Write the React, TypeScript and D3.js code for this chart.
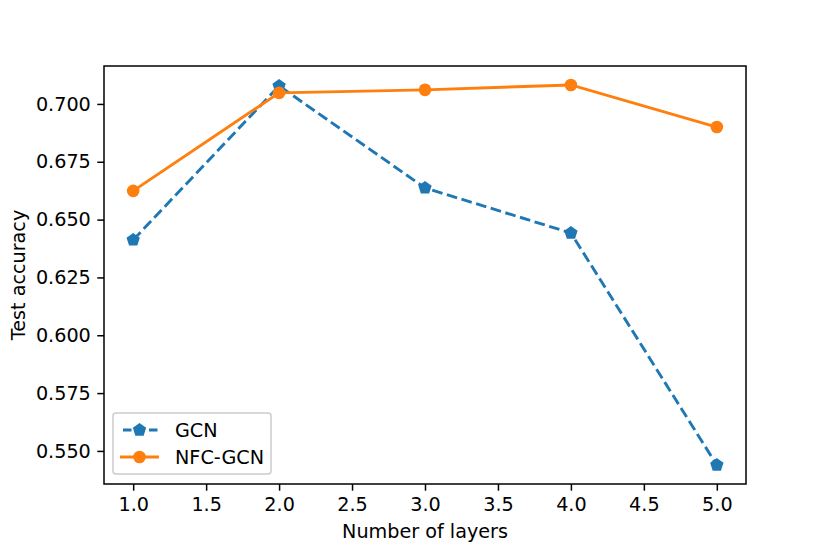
import React, { useEffect, useRef } from 'react';
import * as d3 from 'd3';

const layers = [1, 2, 3, 4, 5];
const gcnAcc = [0.6412, 0.7078, 0.6637, 0.6442, 0.5439];
const nfcAcc = [0.6624, 0.7048, 0.7061, 0.7082, 0.69];
const xTicks = [1.0, 1.5, 2.0, 2.5, 3.0, 3.5, 4.0, 4.5, 5.0];
const yTicks = [0.55, 0.575, 0.6, 0.625, 0.65, 0.675, 0.7];

const BLUE = '#1f77b4';
const ORANGE = '#ff7f0e';

const App: React.FC = () => {
  const ref = useRef<SVGSVGElement>(null);

  useEffect(() => {
    const width = 830;
    const height = 554;
    const margin = { left: 104, right: 84, top: 66, bottom: 70 };
    const font = 'DejaVu Sans, sans-serif';
    const fs = 19.2;
    const lw = 2.9;
    const dash = '10.7,4.6';

    const svg = d3.select(ref.current);
    svg.selectAll('*').remove();
    svg.attr('width', width).attr('height', height);
    svg.append('rect').attr('width', width).attr('height', height).attr('fill', '#fff');

    const x = d3.scaleLinear().domain([0.8, 5.2]).range([margin.left, width - margin.right]);
    const y = d3.scaleLinear().domain([0.5357, 0.7164]).range([height - margin.bottom, margin.top]);

    const g = svg.append('g');

    // axes
    const xAxis = g.append('g')
      .attr('transform', `translate(0,${height - margin.bottom})`)
      .call(d3.axisBottom(x).tickValues(xTicks).tickFormat(d3.format('.1f')).tickSize(6.7).tickPadding(6.5));
    const yAxis = g.append('g')
      .attr('transform', `translate(${margin.left},0)`)
      .call(d3.axisLeft(y).tickValues(yTicks).tickFormat(d3.format('.3f')).tickSize(6.7).tickPadding(6.5));

    [xAxis, yAxis].forEach(a => {
      a.select('.domain').remove();
      a.selectAll('line').attr('stroke', '#000').attr('stroke-width', 1.5);
      a.selectAll('text').attr('font-family', font).attr('font-size', fs).attr('fill', '#000');
    });

    const line = d3.line<number>()
      .x((_, i) => x(layers[i]))
      .y(d => y(d));

    g.append('path')
      .datum(gcnAcc)
      .attr('d', line)
      .attr('fill', 'none')
      .attr('stroke', BLUE)
      .attr('stroke-width', lw)
      .attr('stroke-dasharray', dash);

    g.append('path')
      .datum(nfcAcc)
      .attr('d', line)
      .attr('fill', 'none')
      .attr('stroke', ORANGE)
      .attr('stroke-width', lw);

    // pentagon marker like matplotlib 'p'
    const pent = (r: number) => {
      const pts = d3.range(5).map(k => {
        const a = -Math.PI / 2 + k * 2 * Math.PI / 5;
        return [r * Math.cos(a), r * Math.sin(a)];
      });
      return 'M' + pts.map(p => p.join(',')).join('L') + 'Z';
    };

    g.selectAll('.gcn-pt')
      .data(gcnAcc)
      .enter().append('path')
      .attr('d', pent(7))
      .attr('transform', (d, i) => `translate(${x(layers[i])},${y(d)})`)
      .attr('fill', BLUE);

    g.selectAll('.nfc-pt')
      .data(nfcAcc)
      .enter().append('circle')
      .attr('cx', (_, i) => x(layers[i]))
      .attr('cy', d => y(d))
      .attr('r', 6.3)
      .attr('fill', ORANGE);

    // frame
    g.append('rect')
      .attr('x', margin.left)
      .attr('y', margin.top)
      .attr('width', width - margin.left - margin.right)
      .attr('height', height - margin.top - margin.bottom)
      .attr('fill', 'none')
      .attr('stroke', '#000')
      .attr('stroke-width', 1.5);

    // labels
    svg.append('text')
      .attr('x', (margin.left + width - margin.right) / 2)
      .attr('y', 538)
      .attr('text-anchor', 'middle')
      .attr('font-family', font)
      .attr('font-size', fs)
      .text('Number of layers');

    svg.append('text')
      .attr('transform', `translate(25,${(margin.top + height - margin.bottom) / 2}) rotate(-90)`)
      .attr('text-anchor', 'middle')
      .attr('font-family', font)
      .attr('font-size', fs)
      .text('Test accuracy');

    // legend
    const lg = svg.append('g');
    lg.append('rect')
      .attr('x', 113)
      .attr('y', 413)
      .attr('width', 158)
      .attr('height', 61)
      .attr('rx', 3)
      .attr('fill', '#fff')
      .attr('fill-opacity', 0.8)
      .attr('stroke', '#ccc')
      .attr('stroke-width', 1.5);

    const items = [
      { label: 'GCN', color: BLUE, dashed: true, marker: 'p', cy: 430 },
      { label: 'NFC-GCN', color: ORANGE, dashed: false, marker: 'o', cy: 457 },
    ];
    items.forEach(it => {
      lg.append('line')
        .attr('x1', 120).attr('x2', 159)
        .attr('y1', it.cy).attr('y2', it.cy)
        .attr('stroke', it.color)
        .attr('stroke-width', lw)
        .attr('stroke-dasharray', it.dashed ? '8.5,4.5,8.5,4.5' : null)
        .attr('stroke-dashoffset', it.dashed ? -3 : null);
      if (it.marker === 'p') {
        lg.append('path').attr('d', pent(7)).attr('transform', `translate(139.5,${it.cy})`).attr('fill', it.color);
      } else {
        lg.append('circle').attr('cx', 139.5).attr('cy', it.cy).attr('r', 6.3).attr('fill', it.color);
      }
      lg.append('text')
        .attr('x', 175)
        .attr('y', it.cy)
        .attr('dy', '0.36em')
        .attr('font-family', font)
        .attr('font-size', fs)
        .text(it.label);
    });
  }, []);

  return <svg ref={ref} style={{ display: 'block', margin: '-8px' }}></svg>;
};

export default App;
